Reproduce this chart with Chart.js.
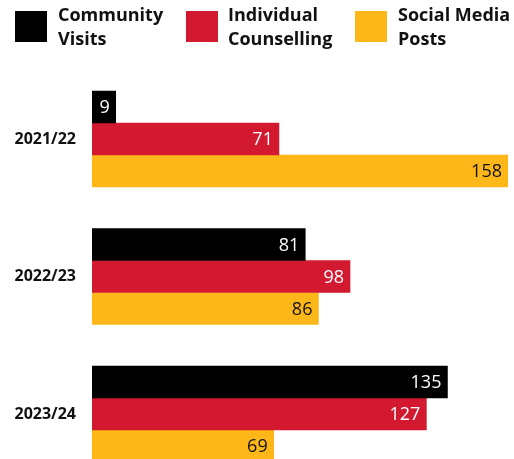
<!DOCTYPE html>
<html>
<head>
<meta charset="utf-8">
<script src="https://cdn.jsdelivr.net/npm/chart.js@4/dist/chart.umd.min.js"></script>
<style>
  html, body { margin: 0; padding: 0; background: #fff; overflow: hidden; }
  #wrap { position: relative; width: 514px; height: 459px; overflow: hidden; }
  #chart { position: absolute; left: 0; top: 0; }
  .legend { position: absolute; top: 0; left: 0; width: 514px; height: 60px; font-family: "Open Sans", sans-serif; }
  .legend .sw { position: absolute; top: 11px; width: 32px; height: 31px; }
  .legend .txt { position: absolute; top: 2px; font-weight: 700; font-size: 18px; line-height: 24px; color: #111; white-space: nowrap; }
</style>
</head>
<body>
<div id="wrap">
  <canvas id="chart" width="514" height="520"></canvas>
  <div class="legend" id="legend"></div>
</div>
<script>
// ── DATA ─────────────────────────────────────────────────────────────────────
const years        = ['2021/22', '2022/23', '2023/24'];
const seriesNames  = [['Community', 'Visits'], ['Individual', 'Counselling'], ['Social Media', 'Posts']];
const community    = [9, 81, 135];
const counselling  = [71, 98, 127];
const socialPosts  = [158, 86, 69];

const COLORS      = ['#000000', '#d2192f', '#fdb719'];
const LABEL_COLOR = ['#ffffff', '#ffffff', '#111111'];

// ── LEGEND (two-line labels) ─────────────────────────────────────────────────
const legendPos = [{ sw: 15, tx: 58 }, { sw: 186, tx: 228 }, { sw: 355, tx: 398 }];
const legendEl = document.getElementById('legend');
seriesNames.forEach((lines, i) => {
  const sw = document.createElement('div');
  sw.className = 'sw';
  sw.style.left = legendPos[i].sw + 'px';
  sw.style.background = COLORS[i];
  const tx = document.createElement('div');
  tx.className = 'txt';
  tx.style.left = legendPos[i].tx + 'px';
  tx.innerHTML = lines.join('<br>');
  legendEl.appendChild(sw);
  legendEl.appendChild(tx);
});

// ── VALUE LABELS at the bar ends ─────────────────────────────────────────────
const barValues = {
  id: 'barValues',
  afterDatasetsDraw(chart) {
    const { ctx } = chart;
    ctx.save();
    ctx.font = '18px "Open Sans", sans-serif';
    ctx.textAlign = 'right';
    ctx.textBaseline = 'middle';
    chart.data.datasets.forEach((ds, di) => {
      chart.getDatasetMeta(di).data.forEach((bar, i) => {
        ctx.fillStyle = LABEL_COLOR[di];
        ctx.fillText(String(ds.data[i]), bar.x - 6, bar.y + 1);
      });
    });
    ctx.restore();
  }
};

// canvas runs past the bottom edge; the y scale's own label padding (~26px)
// would otherwise eat into the plot height
new Chart(document.getElementById('chart'), {
  type: 'bar',
  data: {
    labels: years,
    datasets: [
      { label: seriesNames[0].join(' '), data: community,   backgroundColor: COLORS[0] },
      { label: seriesNames[1].join(' '), data: counselling, backgroundColor: COLORS[1] },
      { label: seriesNames[2].join(' '), data: socialPosts, backgroundColor: COLORS[2] },
    ]
  },
  options: {
    indexAxis: 'y',
    responsive: false,
    animation: false,
    barThickness: 32,
    layout: { padding: { top: 70.25, bottom: 37.25, left: 0, right: 6 } },
    scales: {
      x: { display: false, min: 0, max: 158 },
      y: {
        grid: { display: false, drawTicks: false },
        border: { display: false },
        ticks: {
          padding: 16,
          color: '#111',
          font: { family: '"Open Sans", sans-serif', size: 16, weight: 'bold' },
        },
        afterFit: s => { s.width = 92; },
      }
    },
    plugins: {
      legend: { display: false },
      tooltip: { enabled: false },
    }
  },
  plugins: [barValues]
});
</script>
</body>
</html>
